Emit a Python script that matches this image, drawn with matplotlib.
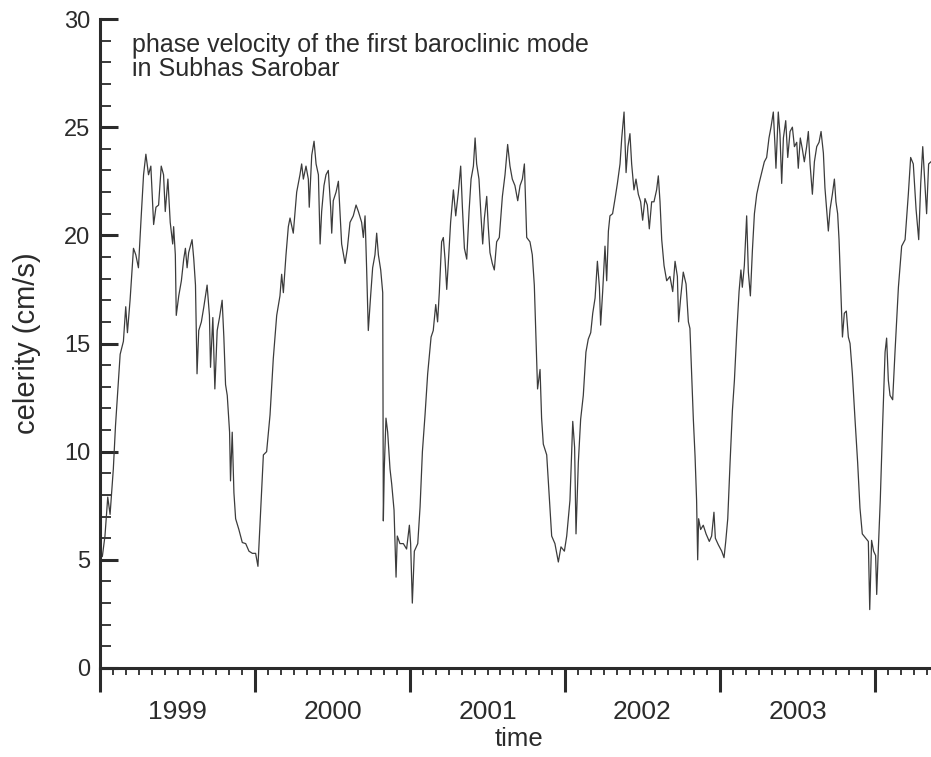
import numpy as np
import matplotlib.pyplot as plt
from matplotlib.ticker import MultipleLocator

plt.rcParams['font.family'] = ['Liberation Sans', 'DejaVu Sans']

# time in years since 1 Jan 1999
t = np.array([
    0.000, 0.015, 0.032, 0.050, 0.065, 0.086, 0.100, 0.119, 0.130, 0.151,
    0.166, 0.177, 0.194, 0.216, 0.231, 0.248, 0.266, 0.281, 0.296, 0.313,
    0.328, 0.346, 0.361, 0.378, 0.395, 0.410, 0.421, 0.438, 0.453, 0.469,
    0.475, 0.486, 0.492, 0.508, 0.525, 0.540, 0.551, 0.562, 0.572, 0.594,
    0.605, 0.616, 0.626, 0.637, 0.654, 0.670, 0.691, 0.706, 0.713, 0.728,
    0.741, 0.756, 0.771, 0.788, 0.799, 0.810, 0.821, 0.836, 0.842, 0.853,
    0.864, 0.875, 0.896, 0.918, 0.940, 0.961, 0.983, 1.004,
    1.019, 1.032, 1.054, 1.075, 1.097, 1.118, 1.140, 1.161, 1.172, 1.183,
    1.200, 1.215, 1.226, 1.247, 1.269, 1.290, 1.301, 1.312, 1.329, 1.344,
    1.350, 1.366, 1.381, 1.394, 1.409, 1.420, 1.430, 1.445, 1.458, 1.473,
    1.488, 1.495, 1.505, 1.523, 1.538, 1.548, 1.559, 1.581, 1.596, 1.613,
    1.634, 1.652, 1.667, 1.688, 1.699, 1.710, 1.720, 1.731, 1.746, 1.759,
    1.774, 1.785, 1.796, 1.811, 1.824, 1.828, 1.834, 1.845, 1.856, 1.871,
    1.882, 1.897, 1.910, 1.918, 1.935, 1.957, 1.978, 1.996,
    2.004, 2.015, 2.028, 2.050, 2.065, 2.080, 2.097, 2.114, 2.136, 2.150,
    2.166, 2.178, 2.189, 2.204, 2.215, 2.226, 2.237, 2.247, 2.262, 2.280,
    2.295, 2.312, 2.327, 2.338, 2.351, 2.366, 2.381, 2.394, 2.409, 2.420,
    2.430, 2.445, 2.458, 2.469, 2.480, 2.495, 2.505, 2.516, 2.531, 2.544,
    2.559, 2.576, 2.596, 2.613, 2.630, 2.645, 2.660, 2.677, 2.695, 2.710,
    2.725, 2.738, 2.753, 2.774, 2.789, 2.802, 2.817, 2.823, 2.839, 2.849,
    2.860, 2.882, 2.897, 2.914, 2.935, 2.957, 2.974, 2.996,
    3.011, 3.032, 3.050, 3.062, 3.071, 3.086, 3.101, 3.118, 3.135, 3.150,
    3.166, 3.179, 3.194, 3.209, 3.222, 3.230, 3.243, 3.258, 3.269, 3.280,
    3.290, 3.307, 3.323, 3.338, 3.355, 3.366, 3.381, 3.394, 3.406, 3.419,
    3.430, 3.445, 3.458, 3.473, 3.488, 3.501, 3.516, 3.531, 3.544, 3.559,
    3.574, 3.591, 3.602, 3.613, 3.624, 3.639, 3.656, 3.677, 3.695, 3.710,
    3.725, 3.733, 3.746, 3.763, 3.781, 3.796, 3.806, 3.817, 3.828, 3.839,
    3.849, 3.856, 3.862, 3.875, 3.892, 3.910, 3.931, 3.946, 3.961, 3.970,
    3.989,
    4.011, 4.026, 4.037, 4.050, 4.065, 4.080, 4.093, 4.108, 4.123, 4.135,
    4.144, 4.157, 4.172, 4.183, 4.196, 4.209, 4.222, 4.237, 4.252, 4.269,
    4.286, 4.301, 4.316, 4.329, 4.344, 4.355, 4.361, 4.376, 4.387, 4.398,
    4.409, 4.424, 4.437, 4.452, 4.467, 4.480, 4.495, 4.505, 4.518, 4.531,
    4.544, 4.559, 4.570, 4.581, 4.596, 4.609, 4.624, 4.639, 4.652, 4.667,
    4.677, 4.690, 4.699, 4.710, 4.725, 4.738, 4.748, 4.759, 4.768, 4.781,
    4.790, 4.802, 4.815, 4.828, 4.839, 4.854, 4.871, 4.888, 4.903, 4.918,
    4.940, 4.957, 4.966, 4.978, 4.991, 5.004, 5.011, 5.022, 5.034, 5.049,
    5.065, 5.075, 5.086, 5.097, 5.114, 5.129, 5.151, 5.172, 5.194, 5.215,
    5.230, 5.247, 5.265, 5.282, 5.295, 5.308, 5.323, 5.333, 5.346, 5.361,
])

# celerity in cm/s
celerity = np.array([
    5.3, 5.15, 6.1, 7.9, 7.1, 9.2, 11.2, 13.3, 14.5, 15.1,
    16.7, 15.5, 17.0, 19.4, 19.1, 18.5, 20.9, 22.8, 23.75, 22.8,
    23.2, 20.5, 21.3, 21.4, 23.2, 22.8, 21.1, 22.6, 20.6, 19.6,
    20.4, 19.1, 16.3, 17.2, 17.9, 18.9, 19.4, 18.5, 19.2, 19.8,
    18.9, 17.7, 13.6, 15.6, 16.0, 16.7, 17.7, 16.3, 13.9, 16.2,
    12.9, 15.6, 16.2, 17.0, 15.3, 13.1, 12.6, 10.9, 8.65, 10.9,
    8.1, 6.9, 6.4, 5.8, 5.75, 5.4, 5.3, 5.3,
    4.7, 6.6, 9.85, 10.0, 11.7, 14.3, 16.3, 17.2, 18.2, 17.35,
    19.1, 20.4, 20.8, 20.1, 22.0, 22.8, 23.3, 22.6, 23.2, 22.6,
    21.3, 23.7, 24.35, 23.3, 22.8, 19.6, 21.1, 22.3, 22.8, 23.0,
    21.3, 20.1, 21.6, 22.0, 22.5, 21.1, 19.6, 18.7, 19.4, 20.6,
    20.9, 21.4, 21.1, 20.6, 19.9, 20.9, 18.5, 15.6, 17.2, 18.5,
    19.1, 20.1, 19.1, 18.4, 17.35, 6.8, 9.2, 11.55, 10.9, 9.2,
    8.5, 7.3, 4.2, 6.1, 5.75, 5.75, 5.5, 6.6,
    5.75, 3.0, 5.4, 5.75, 7.45, 10.0, 11.7, 13.6, 15.3, 15.6,
    16.8, 16.0, 17.35, 19.7, 19.9, 18.9, 17.5, 18.7, 20.6, 22.1,
    20.9, 22.0, 23.2, 21.3, 19.4, 18.9, 21.1, 22.6, 23.2, 24.5,
    23.3, 22.6, 20.9, 19.6, 20.8, 21.8, 20.4, 19.2, 18.7, 18.4,
    19.7, 19.9, 21.8, 22.8, 24.2, 23.2, 22.6, 22.3, 21.6, 22.3,
    22.6, 23.3, 19.9, 19.7, 19.1, 17.7, 14.3, 12.9, 13.8, 11.55,
    10.35, 9.85, 8.1, 6.1, 5.75, 4.9, 5.6, 5.4,
    6.1, 7.75, 11.4, 10.2, 6.2, 9.5, 11.5, 12.6, 14.6, 15.2,
    15.5, 16.4, 17.1, 18.8, 17.6, 15.85, 17.4, 19.5, 17.9, 20.2,
    20.9, 21.0, 21.7, 22.4, 23.3, 24.5, 25.7, 22.9, 24.1, 24.7,
    23.3, 22.1, 22.6, 21.9, 21.55, 20.7, 21.7, 21.4, 20.3, 21.55,
    21.55, 22.1, 22.75, 21.55, 19.8, 18.6, 17.9, 18.1, 17.4, 18.8,
    18.1, 16.0, 17.1, 18.3, 17.75, 16.0, 15.7, 13.6, 11.5, 9.8,
    7.75, 5.0, 6.9, 6.4, 6.6, 6.2, 5.85, 6.1, 7.2, 6.0,
    5.7,
    5.4, 5.1, 5.85, 6.9, 9.5, 11.9, 13.3, 15.5, 17.4, 18.4,
    17.6, 18.6, 20.9, 18.3, 17.2, 19.3, 21.0, 21.9, 22.4, 22.9,
    23.4, 23.6, 24.5, 25.0, 25.7, 24.1, 23.1, 25.7, 24.65, 22.4,
    24.5, 25.3, 23.6, 24.8, 25.0, 24.1, 24.3, 23.1, 24.5, 24.0,
    23.4, 24.1, 24.8, 23.3, 21.9, 23.4, 24.1, 24.3, 24.8, 23.8,
    22.2, 21.0, 20.2, 21.2, 21.9, 22.6, 21.55, 21.0, 19.8, 17.1,
    15.3, 16.4, 16.5, 15.3, 15.0, 13.6, 11.5, 9.5, 7.4, 6.2,
    6.0, 5.85, 2.7, 5.9, 5.4, 5.2, 3.4, 5.6, 7.75, 11.2,
    14.6, 15.25, 13.3, 12.6, 12.4, 14.6, 17.6, 19.5, 19.8, 21.9,
    23.6, 23.3, 21.2, 19.8, 22.4, 24.1, 22.2, 21.0, 23.3, 23.4,
])

years = 1999 + t
year_bounds = [1999, 2000, 2001, 2002, 2003, 2004]
year_labels = ['1999', '2000', '2001', '2002', '2003']

ink = '#2b2b2b'

fig = plt.figure(figsize=(9.31, 7.57), dpi=100)
ax = fig.add_axes([100 / 931, 1 - 668 / 757, 831 / 931, 649 / 757])

ax.plot(years, celerity, color='#3c3c3c', lw=0.9)

ax.set_xlim(1999, 1999 + 831 / 155)
ax.set_ylim(0, 30)

# year boundaries as long ticks, months as short ticks, year names mid-year
ax.set_xticks(year_bounds, [''] * len(year_bounds))
months = []
month_labels = []
for k in range(1, 65):
    if k % 12 == 0:
        continue
    months.append(1999 + k / 12)
    yi = k // 12
    month_labels.append(year_labels[yi] if k % 12 == 6 and yi < len(year_labels) else '')
ax.set_xticks(months, month_labels, minor=True)

ax.set_yticks(range(0, 31, 5))
ax.yaxis.set_minor_locator(MultipleLocator(1))

ax.tick_params(axis='x', which='major', direction='out', length=17, width=2.2, color=ink)
ax.tick_params(axis='x', which='minor', direction='out', length=5, width=1.3, color=ink,
               pad=18, labelsize=19, labelcolor=ink)
ax.tick_params(axis='y', which='major', direction='in', length=13, width=2.2, color=ink,
               pad=7, labelsize=17, labelcolor=ink)
ax.tick_params(axis='y', which='minor', direction='in', length=8, width=1.3, color=ink)

for side in ['top', 'right']:
    ax.spines[side].set_visible(False)
for side in ['left', 'bottom']:
    ax.spines[side].set_linewidth(2.2)
    ax.spines[side].set_color(ink)

ax.text(0.0385, 0.978, 'phase velocity of the first baroclinic mode\nin Subhas Sarobar',
        transform=ax.transAxes, ha='left', va='top', fontsize=18, color=ink, linespacing=1.0)

ax.set_ylabel('celerity (cm/s)', fontsize=21, color=ink)
ax.yaxis.set_label_coords(-0.071, 0.5)
ax.set_xlabel('time', fontsize=18.5, color=ink)
ax.xaxis.set_label_coords(0.504, -0.0909)

fig.savefig('out.png', dpi=100)
